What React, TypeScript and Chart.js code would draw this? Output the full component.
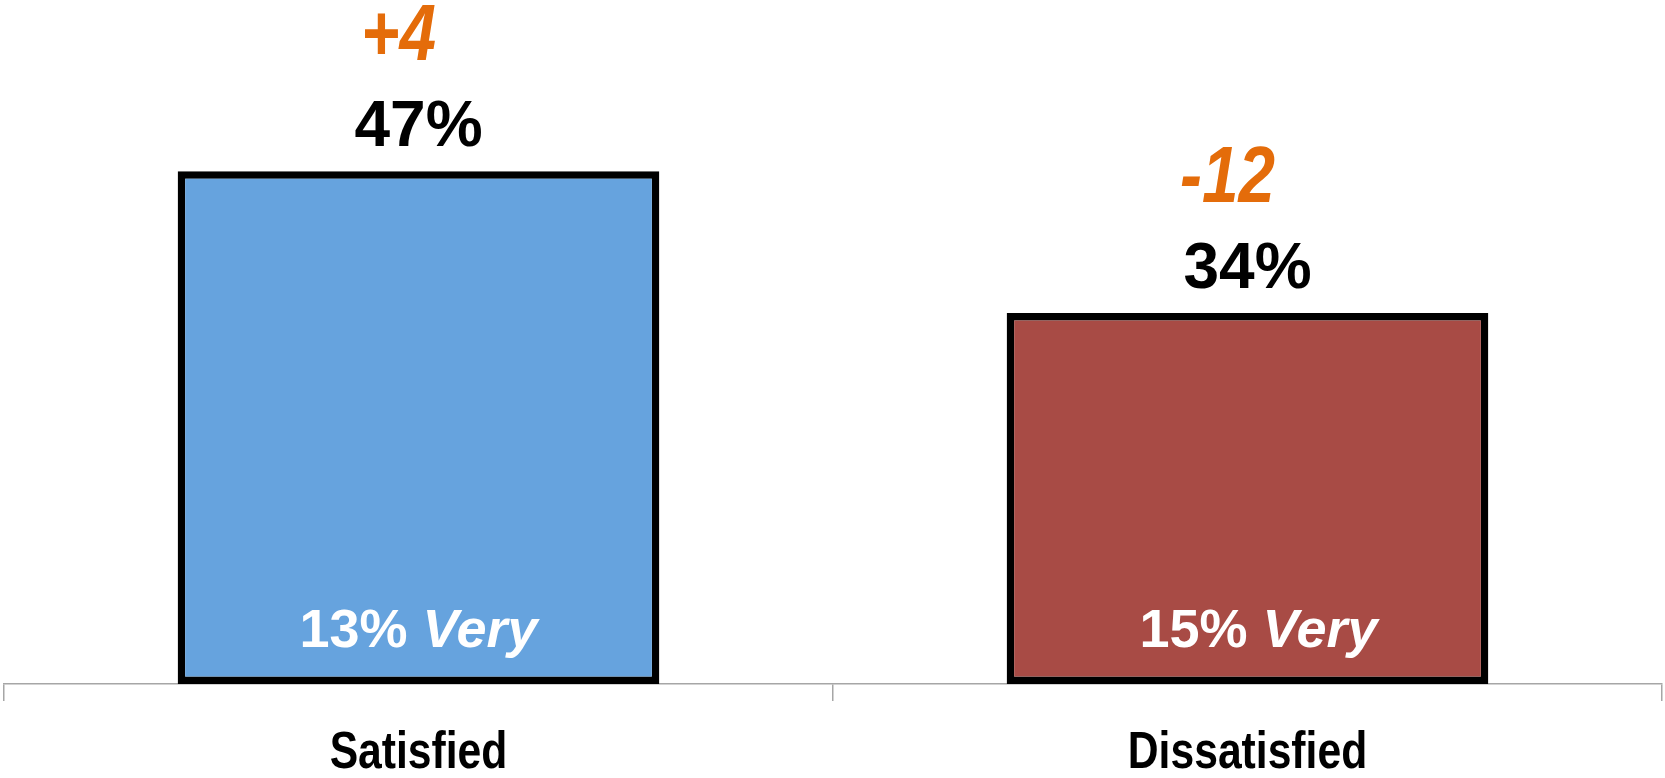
import React, { useEffect, useRef } from "react";
import { Chart, registerables } from "chart.js";

Chart.register(...registerables);

// Overall satisfaction, share of respondents (%)
const categories = ["Satisfied", "Dissatisfied"];
const shares = [47, 34];
// Change versus the previous wave, in points
const changes = ["+4", "-12"];
// Share answering "Very" within each group (%)
const veryShares = [13, 15];
const barColors = ["#66A3DE", "#A84B45"];

const FAMILY = '"Liberation Sans", Arial, sans-serif';
// Horizontal squeeze that turns the regular face into a narrow one
const NARROW = 0.82;
const ORANGE = "#E46C0A";
// Small horizontal nudges for the in-bar captions
const VERY_NUDGE = [0, 11];

function drawText(
  ctx: CanvasRenderingContext2D,
  text: string,
  x: number,
  y: number,
  font: string,
  color: string,
  squeeze = 1
) {
  ctx.save();
  ctx.font = font;
  ctx.fillStyle = color;
  ctx.textAlign = "center";
  ctx.textBaseline = "alphabetic";
  ctx.translate(x, y);
  ctx.scale(squeeze, 1);
  ctx.fillText(text, 0, 0);
  ctx.restore();
}

const barLabels = {
  id: "barLabels",
  afterDatasetsDraw(chart: any) {
    const ctx: CanvasRenderingContext2D = chart.ctx;
    const meta = chart.getDatasetMeta(0);
    meta.data.forEach((bar: any, i: number) => {
      const { x, y, base } = bar.getProps(["x", "y", "base"], true);

      // value above the bar
      const valueBaseline = y - 25;
      drawText(ctx, `${shares[i]}%`, x, valueBaseline, `bold 64px ${FAMILY}`, "#000000");

      // change versus previous wave
      drawText(
        ctx,
        changes[i],
        x - 20,
        valueBaseline - 86.5,
        `italic bold 80px ${FAMILY}`,
        ORANGE,
        NARROW
      );

      // "NN% Very" caption inside the bar, number upright and word italic
      const lead = `${veryShares[i]}% `;
      const tail = "Very";
      const upright = `bold 54px ${FAMILY}`;
      const slanted = `italic bold 54px ${FAMILY}`;
      ctx.save();
      ctx.font = upright;
      const w1 = ctx.measureText(lead).width;
      ctx.font = slanted;
      const w2 = ctx.measureText(tail).width;
      const start = x + VERY_NUDGE[i] - (w1 + w2) / 2;
      const baseline = base - 37;
      ctx.fillStyle = "#FFFFFF";
      ctx.textAlign = "left";
      ctx.textBaseline = "alphabetic";
      ctx.font = upright;
      ctx.fillText(lead, start, baseline);
      ctx.font = slanted;
      ctx.fillText(tail, start + w1, baseline);
      ctx.restore();
    });

    // category names under the axis
    const xs = chart.scales.x;
    categories.forEach((c, i) => {
      drawText(ctx, c, xs.getPixelForValue(i), 768, `bold 52px ${FAMILY}`, "#000000", NARROW);
    });
  },
};

export default function App() {
  const canvasRef = useRef<HTMLCanvasElement | null>(null);

  useEffect(() => {
    document.body.style.margin = "0";
    const canvas = canvasRef.current;
    if (!canvas) return;
    const chart = new Chart(canvas, {
      type: "bar",
      data: {
        labels: categories,
        datasets: [
          {
            data: shares,
            backgroundColor: barColors,
            borderColor: "#000000",
            borderWidth: 7.5,
            borderSkipped: false,
            barPercentage: 0.581,
            categoryPercentage: 1,
          },
        ],
      },
      options: {
        animation: false,
        responsive: true,
        maintainAspectRatio: false,
        layout: { padding: { left: 4, right: 3, top: 0, bottom: 77 } },
        plugins: {
          legend: { display: false },
          tooltip: { enabled: false },
          title: { display: false },
        },
        scales: {
          x: {
            type: "category",
            offset: true,
            grid: {
              offset: true,
              drawOnChartArea: false,
              drawTicks: true,
              tickLength: 17,
              color: "#A6A6A6",
              lineWidth: 1.5,
            },
            border: { display: true, color: "#A6A6A6", width: 1.5 },
            ticks: { display: false },
          },
          y: { display: false, min: 0, max: 62.7 },
        },
      },
      plugins: [barLabels],
    });
    return () => chart.destroy();
  }, []);

  return (
    <div style={{ position: "fixed", left: 0, top: 0, width: 1665, height: 778, background: "#FFFFFF" }}>
      <canvas ref={canvasRef} />
    </div>
  );
}
